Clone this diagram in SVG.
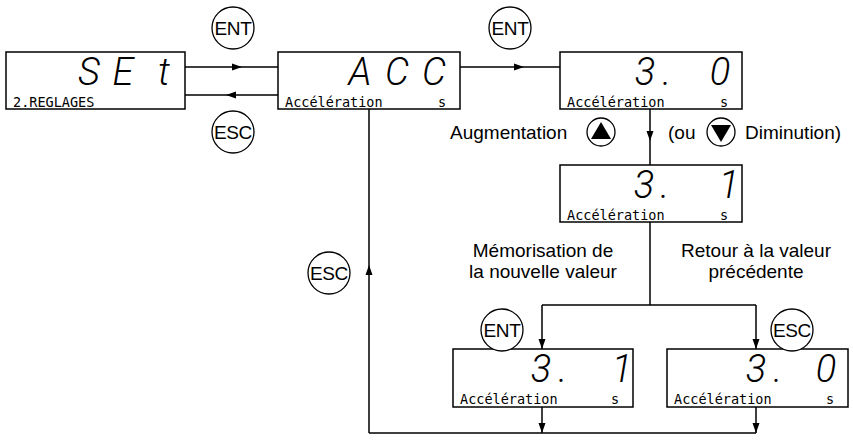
<svg xmlns="http://www.w3.org/2000/svg" xmlns:xlink="http://www.w3.org/1999/xlink" width="853" height="444" viewBox="0 0 853 444">
<style>
.box{fill:#fff;stroke:#000;stroke-width:1.5}
.ln{fill:none;stroke:#000;stroke-width:1.5}
.key{fill:#fff;stroke:#000;stroke-width:1.3}
.kt{font-family:"Liberation Sans",Arial,sans-serif;font-size:19px;letter-spacing:-0.4px;text-anchor:middle;fill:#000}
.lbl{font-family:"Liberation Sans",Arial,sans-serif;font-size:19px;fill:#000}
.mid{text-anchor:middle}
.seg{font-family:Roboto,"DejaVu Sans",sans-serif;font-size:38px;font-style:italic;font-weight:300;text-anchor:middle;fill:#000}
.sm{font-family:"DejaVu Sans Mono",monospace;font-size:13.5px;fill:#000}
</style>
<defs>
<polygon id="arr" points="0,0 -10,-3.5 -10,3.5" fill="#000"/>
</defs>
<g id="connectors">
<path class="ln" d="M185 67H278M278 95H185M460 67H560M650 109V165M650 222V305M542 305H756M542 305V349M756 305V349M542 407V433M756 407V433M369 433H756M369 433V109"/>
<use xlink:href="#arr" transform="translate(242,67)"/>
<use xlink:href="#arr" transform="translate(226,95) rotate(180)"/>
<use xlink:href="#arr" transform="translate(524,67)"/>
<use xlink:href="#arr" transform="translate(650,141) rotate(90)"/>
<use xlink:href="#arr" transform="translate(542,349) rotate(90)"/>
<use xlink:href="#arr" transform="translate(756,349) rotate(90)"/>
<use xlink:href="#arr" transform="translate(542,433) rotate(90)"/>
<use xlink:href="#arr" transform="translate(756,433) rotate(90)"/>
<use xlink:href="#arr" transform="translate(369,265) rotate(-90)"/>
</g>
<g id="node-set">
<rect class="box" x="6" y="52" width="179" height="57"/>
<text class="seg" x="89 123 164" y="85">SEt</text>
<text class="sm" x="13" y="107">2.REGLAGES</text>
</g>
<g id="node-acc">
<rect class="box" x="278" y="52" width="182" height="57"/>
<text class="seg" x="360 397 434" y="85">ACC</text>
<text class="sm" x="285" y="107">Accélération</text>
<text class="sm" x="438" y="107">s</text>
</g>
<g id="node-30a">
<rect class="box" x="560" y="52" width="182" height="57"/>
<text class="seg" x="645 667 720" y="85">3.0</text>
<text class="sm" x="567" y="107">Accélération</text>
<text class="sm" x="720" y="107">s</text>
</g>
<g id="node-31a">
<rect class="box" x="560" y="165" width="182" height="57"/>
<text class="seg" x="644 665 729" y="198">3.1</text>
<text class="sm" x="567" y="220">Accélération</text>
<text class="sm" x="720" y="220">s</text>
</g>
<g id="node-31b">
<rect class="box" x="453" y="349" width="180" height="58"/>
<text class="seg" x="541 563 622" y="382">3.1</text>
<text class="sm" x="460" y="404">Accélération</text>
<text class="sm" x="611" y="404">s</text>
</g>
<g id="node-30b">
<rect class="box" x="667" y="349" width="181" height="58"/>
<text class="seg" x="756 778 826" y="382">3.0</text>
<text class="sm" x="674" y="404">Accélération</text>
<text class="sm" x="826" y="404">s</text>
</g>
<g id="key-ent1"><circle class="key" cx="233" cy="28" r="21"/><text class="kt" x="233" y="35">ENT</text></g>
<g id="key-esc1"><circle class="key" cx="233" cy="132" r="21"/><text class="kt" x="233" y="139">ESC</text></g>
<g id="key-ent2"><circle class="key" cx="510" cy="28" r="21"/><text class="kt" x="510" y="35">ENT</text></g>
<g id="key-esc2"><circle class="key" cx="329" cy="273" r="21"/><text class="kt" x="329" y="280">ESC</text></g>
<g id="key-ent3"><circle class="key" cx="502" cy="330" r="21"/><text class="kt" x="502" y="337">ENT</text></g>
<g id="key-esc3"><circle class="key" cx="792" cy="330" r="21"/><text class="kt" x="792" y="337">ESC</text></g>
<g id="key-up"><circle class="key" cx="601" cy="132" r="14"/><polygon points="601,122 611,139 591,139" fill="#000"/></g>
<g id="key-down"><circle class="key" cx="721" cy="132" r="14"/><polygon points="721,142 711,125 731,125" fill="#000"/></g>
<g id="labels">
<text class="lbl" x="450" y="139">Augmentation</text>
<text class="lbl" x="668" y="139">(ou</text>
<text class="lbl" x="745" y="139">Diminution)</text>
<text class="lbl mid" x="543" y="257">Mémorisation de</text>
<text class="lbl mid" x="543" y="278">la nouvelle valeur</text>
<text class="lbl mid" x="756" y="257">Retour à la valeur</text>
<text class="lbl mid" x="756" y="278">précédente</text>
</g>
</svg>
